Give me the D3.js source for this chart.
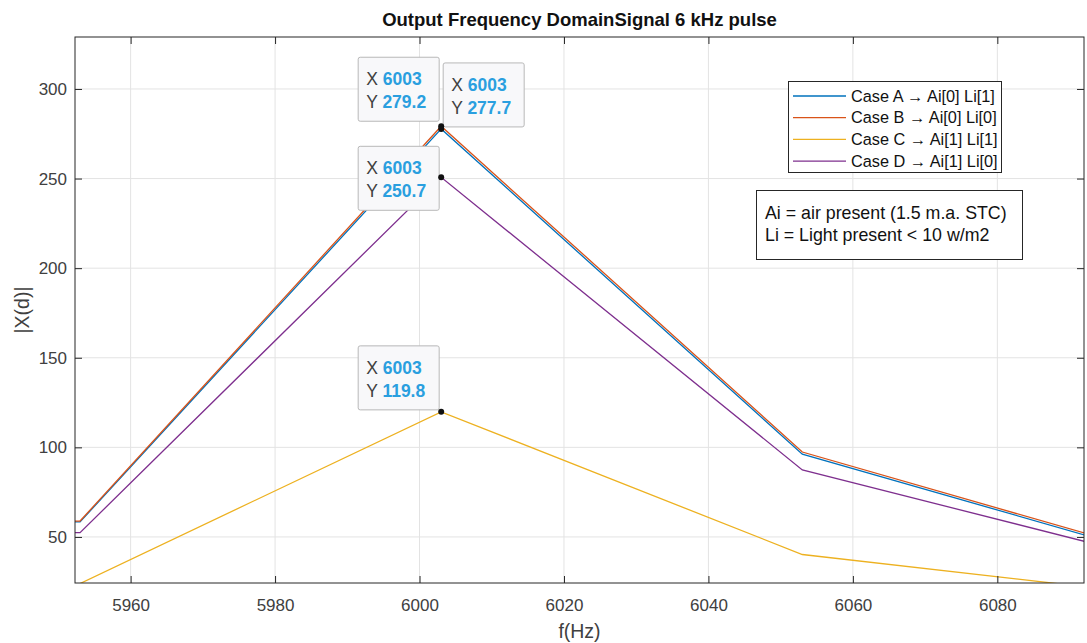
<!DOCTYPE html>
<html lang="en">
<head>
  <meta charset="UTF-8" />
  <title>Output Frequency DomainSignal 6 kHz pulse</title>
  <script src="https://d3js.org/d3.v7.min.js"></script>
  <style>
    body { margin: 0; background: #fff; }
    svg { display: block; font-family: "Liberation Sans", Arial, sans-serif; }
    .tick text { fill: #404040; font-size: 17px; }
  </style>
</head>
<body>
  <svg width="1087" height="643"></svg>

  <script>
    // data
    const freqs = [5903, 5953, 6003, 6053, 6103];
    const caseA = [57.5, 58.4, 277.7, 96.2, 38.5];
    const caseB = [57.8, 58.9, 279.2, 97.4, 39.5];
    const caseC = [22.0, 24.0, 119.8, 40.2, 17.2];
    const caseD = [51.0, 52.4, 250.7, 87.4, 36.4];
    const caseNames = ["Case A \u2192 Ai[0] Li[1]", "Case B \u2192 Ai[0] Li[0]",
                       "Case C \u2192 Ai[1] Li[1]", "Case D \u2192 Ai[1] Li[0]"];
    const xTicks = [5960, 5980, 6000, 6020, 6040, 6060, 6080];
    const yTicks = [50, 100, 150, 200, 250, 300];
    const noteLines = ["Ai = air present (1.5 m.a. STC)", "Li = Light present < 10 w/m2"];

    const series = [caseA, caseB, caseC, caseD].map((v, i) => ({ name: caseNames[i], values: v }));
    const colors = ["#0072BD", "#D95319", "#EDB120", "#7E2F8E"];

    const svg = d3.select("svg");
    const pL = 75, pR = 1084, pT = 37, pB = 583;

    const x = d3.scaleLinear().domain([5952.3, 6092]).range([pL, pR]);
    const y = d3.scaleLinear().domain([24.3, 329]).range([pB, pT]);

    // grid
    svg.append("g").selectAll("line").data(xTicks).join("line")
      .attr("x1", d => x(d)).attr("x2", d => x(d)).attr("y1", pT).attr("y2", pB)
      .attr("stroke", "#e3e3e3");
    svg.append("g").selectAll("line").data(yTicks).join("line")
      .attr("y1", d => y(d)).attr("y2", d => y(d)).attr("x1", pL).attr("x2", pR)
      .attr("stroke", "#e3e3e3");

    // lines
    svg.append("clipPath").attr("id", "clip").append("rect")
      .attr("x", pL).attr("y", pT).attr("width", pR - pL).attr("height", pB - pT);
    const line = d3.line().x((d, i) => x(freqs[i])).y(d => y(d));
    svg.append("g").attr("clip-path", "url(#clip)")
      .selectAll("path").data(series).join("path")
      .attr("d", d => line(d.values))
      .attr("fill", "none")
      .attr("stroke", (d, i) => colors[i])
      .attr("stroke-width", 1.3);

    // axes (MATLAB style, ticks inside, box)
    const tl = 7;
    svg.append("g").attr("transform", `translate(0,${pB})`)
      .call(d3.axisBottom(x).tickValues(xTicks).tickSize(-tl).tickPadding(16).tickFormat(d3.format("d")))
      .call(g => g.select(".domain").remove());
    svg.append("g").attr("transform", `translate(${pL},0)`)
      .call(d3.axisLeft(y).tickValues(yTicks).tickSize(-tl).tickPadding(8))
      .call(g => g.select(".domain").remove());
    svg.append("g").attr("transform", `translate(0,${pT})`)
      .call(d3.axisTop(x).tickValues(xTicks).tickSize(-tl).tickFormat(""))
      .call(g => g.select(".domain").remove());
    svg.append("g").attr("transform", `translate(${pR},0)`)
      .call(d3.axisRight(y).tickValues(yTicks).tickSize(-tl).tickFormat(""))
      .call(g => g.select(".domain").remove());
    svg.selectAll(".tick line").attr("stroke", "#262626");
    svg.append("rect").attr("x", pL).attr("y", pT)
      .attr("width", pR - pL).attr("height", pB - pT)
      .attr("fill", "none").attr("stroke", "#262626").attr("stroke-width", 1);

    // labels
    svg.append("text").attr("x", (pL + pR) / 2).attr("y", 26)
      .attr("text-anchor", "middle").attr("font-weight", "bold").attr("font-size", 18.5)
      .attr("fill", "#111").text("Output Frequency DomainSignal 6 kHz pulse");
    svg.append("text").attr("x", (pL + pR) / 2).attr("y", 638)
      .attr("text-anchor", "middle").attr("font-size", 19.5).attr("fill", "#404040").text("f(Hz)");
    svg.append("text").attr("transform", `translate(29,${(pT + pB) / 2}) rotate(-90)`)
      .attr("text-anchor", "middle").attr("font-size", 19.5).attr("fill", "#404040").text("|X(d)|");

    // legend
    const lg = svg.append("g");
    lg.append("rect").attr("x", 788.5).attr("y", 81.5).attr("width", 213).attr("height", 91)
      .attr("fill", "#fff").attr("stroke", "#262626");
    series.forEach((s, i) => {
      const yy = 96 + i * 21.7;
      lg.append("line").attr("x1", 793).attr("x2", 846).attr("y1", yy).attr("y2", yy)
        .attr("stroke", colors[i]).attr("stroke-width", 1.3);
      lg.append("text").attr("x", 851).attr("y", yy + 5.5).attr("font-size", 16.3)
        .attr("fill", "#111").text(s.name);
    });

    // note box
    const nb = svg.append("g");
    nb.append("rect").attr("x", 756.5).attr("y", 190.5).attr("width", 266).attr("height", 69)
      .attr("fill", "#fff").attr("stroke", "#262626");
    noteLines.forEach((t, i) => {
      nb.append("text").attr("x", 765).attr("y", 219 + i * 22).attr("font-size", 17.8)
        .attr("fill", "#111").text(t);
    });

    // data tips at the peak (series index, box offset relative to the dot)
    const peakIdx = 2;
    const tips = [
      { s: 1, dx: -83, dy: -69 },
      { s: 0, dx: 2, dy: -66 },
      { s: 3, dx: -83, dy: -31 },
      { s: 2, dx: -83, dy: -66 }
    ];
    const tg = svg.append("g");
    tips.forEach(t => {
      const px = x(freqs[peakIdx]), py = y(series[t.s].values[peakIdx]);
      const bx = px + t.dx, by = py + t.dy;
      tg.append("rect").attr("x", bx).attr("y", by).attr("width", 81).attr("height", 64)
        .attr("rx", 2).attr("fill", "#f8f8fa").attr("stroke", "#b8b8b8");
      const labels = [["X ", d3.format("d")(freqs[peakIdx])], ["Y ", d3.format(".1f")(series[t.s].values[peakIdx])]];
      labels.forEach((l, k) => {
        const tx = tg.append("text").attr("x", bx + 8).attr("y", by + 28 + k * 23).attr("font-size", 17.5);
        tx.append("tspan").attr("fill", "#404040").text(l[0]);
        tx.append("tspan").attr("fill", "#2a9fdf").attr("font-weight", "bold").text(l[1]);
      });
    });
    tips.forEach(t => {
      tg.append("circle").attr("cx", x(freqs[peakIdx])).attr("cy", y(series[t.s].values[peakIdx]))
        .attr("r", 3).attr("fill", "#111");
    });
  </script>
</body>
</html>
